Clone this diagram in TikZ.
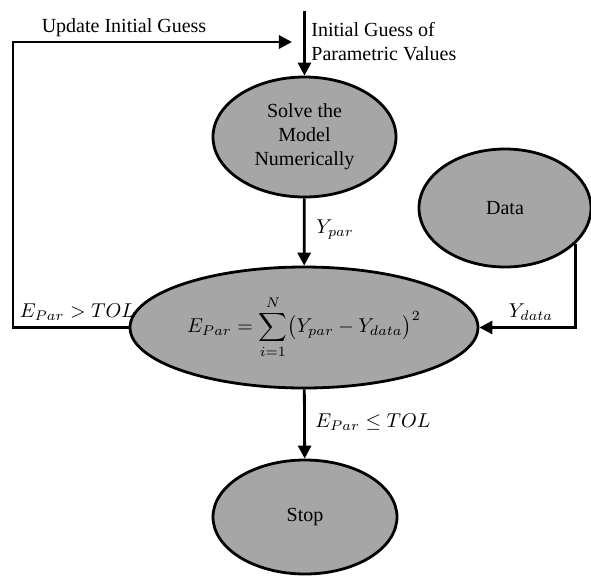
\documentclass[tikz,border=0pt]{standalone}
\usepackage{amsmath}
\usepackage{fontspec}
\setmainfont{Liberation Serif}
\newfontfamily\labelfont{Liberation Serif}
\usetikzlibrary{arrows.meta,positioning,shapes.geometric}
\definecolor{StageGray}{HTML}{A6A6A6}
\tikzset{
  stage/.style={
    ellipse,draw=black,line width=1.4pt,fill=StageGray,
    inner sep=0pt,align=center,font=\labelfont\normalsize
  },
  arrow/.style={-{Triangle[length=6.5pt,width=6.5pt]},line width=1.4pt,draw=black},
  tag/.style={inner sep=1pt,font=\labelfont\normalsize}
}

\begin{document}
\begin{tikzpicture}[x=0.5pt,y=-0.5pt]
  \useasboundingbox (0,0) rectangle (591,575);
  \node[stage,minimum width=91.5pt,minimum height=60pt] (solve) at (304.5,137)
    {Solve the\\Model\\Numerically};
  \node[stage,minimum width=86pt,minimum height=59pt] (data) at (505,208) {Data};
  \node[stage,minimum width=174pt,minimum height=60.5pt] (err) at (304,327.5)
    {$E_{Par} = \displaystyle\sum_{i=1}^{N}\bigl(Y_{par} - Y_{data}\bigr)^2$};
  \node[stage,minimum width=92pt,minimum height=57pt] (stop) at (305,517) {Stop};

  \coordinate (start) at (304.5,11);
  \coordinate (corner) at (13,42);
  \coordinate (loopend) at (292,42);

  \draw[arrow] (start) -- (solve);
  \draw[arrow] (solve) -- (err);
  \draw[arrow] (err) -- (stop);
  \draw[arrow] (data.-27) |- (err.east);
  \draw[arrow] (err.west) -| (corner) -- (loopend);

  \node[tag,anchor=west,align=left] (guess) at (309,42) {Initial Guess of\\Parametric Values};
  \node[tag] (update) at (124,28) {Update Initial Guess};
  \node[tag,anchor=west] (ypar) at (314,230) {$Y_{par}$};
  \node[tag,anchor=west] (conv) at (313,422) {$E_{Par} \leq TOL$};
  \node[tag] (notconv) at (77.5,312) {$E_{Par} > TOL$};
  \node[tag] (ydata) at (531,312) {$Y_{data}$};
\end{tikzpicture}
\end{document}
